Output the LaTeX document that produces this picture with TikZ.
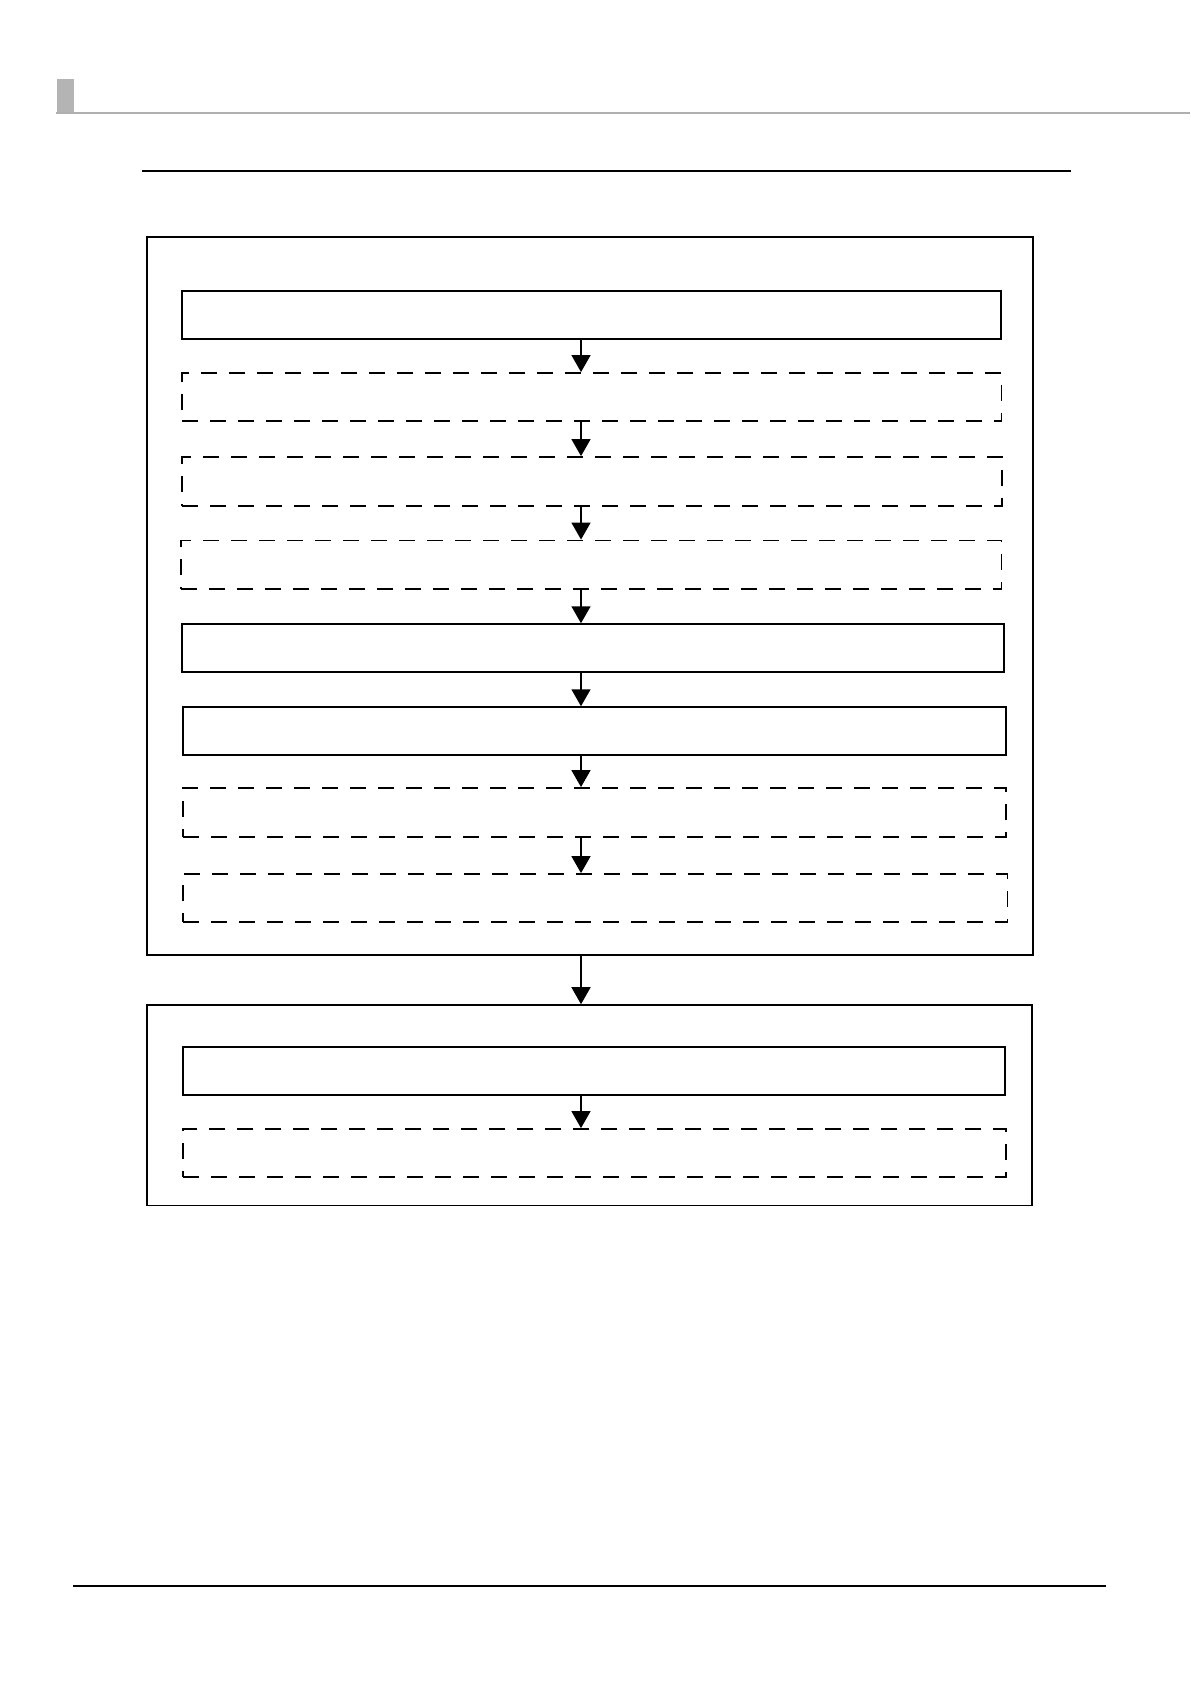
\documentclass[tikz,border=0pt]{standalone}
\usepackage{tikz}
\usetikzlibrary{arrows.meta}
\definecolor{tabgray}{HTML}{B4B4B4}
\definecolor{rulegray}{HTML}{B0B0B0}
\tikzset{
  stage/.style={
    rectangle, draw=black, line width=0.75pt,
    minimum height=24pt, inner sep=0pt,
  },
  optstage/.style={stage, line width=0.9pt, dash pattern=on 7.8pt off 6.2pt},
  group/.style={rectangle, draw=black, line width=0.8pt, inner sep=0pt},
  flow/.style={-{Triangle[width=9.5pt, length=8.5pt]}, line width=0.8pt},
}
\begin{document}
\begin{tikzpicture}[x=0.5pt, y=-0.5pt]
\useasboundingbox (0,0) rectangle (1190,1684);

% ── page furniture ────────────────────────────────────────────────────
\fill[tabgray] (57,79) rectangle (74,113);
\draw[rulegray, line width=0.6pt] (56,113) -- (1190,113);
\draw[line width=0.9pt] (142,171) -- (1071,171);
\draw[line width=1pt] (73,1586) -- (1106,1586);

% ── first group: eight stages ─────────────────────────────────────────
\node[group, minimum width=443pt, minimum height=359pt] (grpA) at (590,596) {};
\node[stage,    minimum width=409.5pt]                   (s1) at (591.5,315)   {};
\node[optstage, minimum width=409.75pt]                  (s2) at (591.75,397)  {};
\node[optstage, minimum width=410pt, minimum height=24.5pt] (s3) at (592,481.5) {};
\node[optstage, minimum width=410.25pt, minimum height=24.25pt] (s4) at (591.25,564.75) {};
\node[stage,    minimum width=411pt]                     (s5) at (593,648)     {};
\node[stage,    minimum width=411.5pt]                   (s6) at (594.5,731)   {};
\node[optstage, minimum width=411.5pt, minimum height=24.5pt] (s7) at (594.5,812.5) {};
\node[optstage, minimum width=412.25pt]                  (s8) at (595.25,898)  {};

% ── second group: two stages ──────────────────────────────────────────
\node[group, minimum width=442.5pt, minimum height=100.25pt] (grpB) at (589.5,1105.25) {};
\node[stage,    minimum width=411pt]                     (s9)  at (594,1071)   {};
\node[optstage, minimum width=411.5pt]                   (s10) at (594.5,1153) {};

% ── arrows down the spine ─────────────────────────────────────────────
\coordinate (spine) at (581,0);
\foreach \a/\b in {s1/s2, s2/s3, s3/s4, s4/s5, s5/s6, s6/s7, s7/s8, grpA/grpB, s9/s10}
  \draw[flow] (\a.south -| spine) -- (\b.north -| spine);

\end{tikzpicture}
\end{document}
